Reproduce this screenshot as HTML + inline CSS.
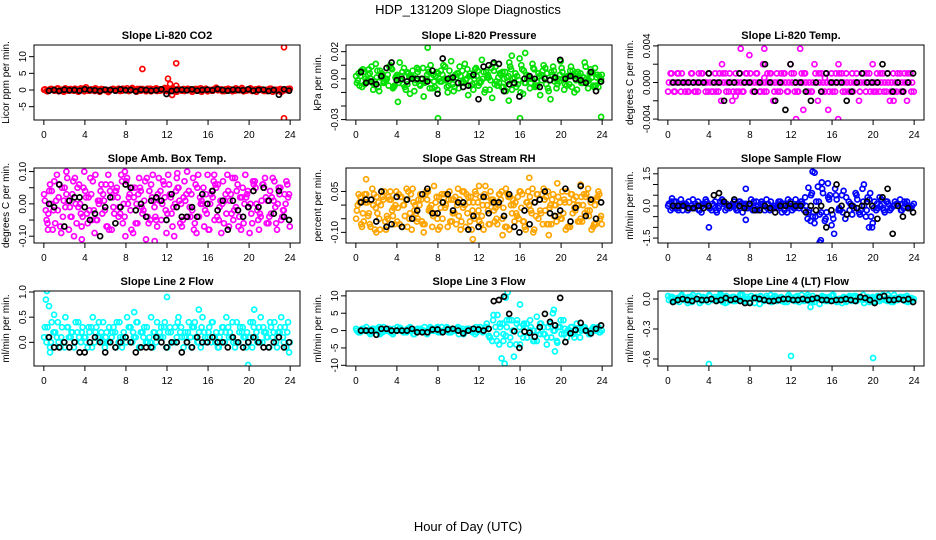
<!DOCTYPE html>
<html><head><meta charset="utf-8"><style>
body{margin:0;background:#fff}
svg{display:block;font-family:"Liberation Sans",sans-serif}
</style></head><body>
<svg id="chart" width="936" height="540" viewBox="0 0 936 540" xmlns="http://www.w3.org/2000/svg">
<text x="468" y="14" text-anchor="middle" font-size="13">HDP_131209  Slope Diagnostics</text>
<text x="468" y="531" text-anchor="middle" font-size="13">Hour of Day (UTC)</text>
</svg>
<script>
// ---------- data (values in panel units; multiply by unit) ----------
const xTicks=[0,4,8,12,16,20,24];
const xTickLabels=["0","4","8","12","16","20","24"];

const co2A=[0.2,-0.1,0.3,0.0,-0.4,0.1,0.5,-0.2,0.0,0.3,-0.3,0.1,0.8,-0.2,0.0,0.4,-0.5,0.2,0.1,-0.1,0.3,0.0,-0.3,0.2,0.5,-0.1,0.0,0.3,-0.2,0.1,0.4,-0.4,0.0,0.2,-0.1,0.6,-0.3,0.1,0.0,0.3,-0.2,0.2,0.0,-0.5,0.3,0.1,-0.1,0.4,0.0,-0.2,0.7,0.1,-0.3,0.0,0.2,-0.1,0.3,0.0,-0.4,0.1,0.5,-0.2,0.0,0.2,-0.3,0.1,0.4,-0.1,0.0,-0.6,0.2,0.3];
const co2B=[-0.3,0.2,0.0,0.4,-0.1,-0.5,0.1,0.3,-0.2,0.0,0.5,-0.4,0.1,0.2,-0.3,0.0,0.3,-0.1,-0.6,0.2,0.0,0.4,-0.2,0.1,-0.3,0.6,0.0,-0.1,0.3,-0.4,0.0,0.2,0.5,-0.2,0.1,-0.3,0.0,0.4,-0.5,0.1,0.3,-0.1,0.2,0.0,-0.2,0.5,0.1,-0.4,0.0,0.3,-0.1,0.2,-0.3,0.4,0.0,-0.2,0.1,0.6,-0.1,0.0,-0.3,0.2,0.4,-0.1,0.0,0.3,-0.5,0.1,0.2,-0.2,0.0,0.4];
const co2C=[0.1,-0.4,0.3,-0.2,0.5,0.0,-0.3,0.2,-0.1,0.4,-0.5,0.1,0.3,-0.2,0.0,0.5,-0.3,0.2,0.0,-0.4,0.3,0.1,-0.2,0.4,-0.1,0.0,0.2,-0.5,0.3,0.1,-0.2,0.4,0.0,-0.3,0.2,-0.1,0.5,0.0,-0.4,0.2,0.1,-0.3,0.4,0.0,-0.1,0.3,-0.5,0.2,0.0,-0.2,0.4,0.1,-0.3,0.2,0.0,-0.4,0.5,-0.1,0.1,-0.2,0.3,0.0,-0.5,0.2,0.1,-0.3,0.4,0.0,-0.2,0.3,-0.1,0.1];
const co2Out=[[9.6,6.3],[12.1,3.4],[12.3,1.8],[12.9,8],[12.9,1.3],[23.4,12.8],[23.4,-8.5],[12.5,-1.5]];
const co2K=[-0.2,0.0,-0.3,0.1,-0.1,0.0,-0.2,0.2,0.0,-0.1,-0.3,0.1,0.0,-0.2,0.2,-0.1,0.0,-0.4,0.1,0.0,-0.2,-0.1,0.2,-1.2,-0.3,0.0,0.1,-0.1,0.2,-0.2,0.0,0.1,-0.1,0.3,0.0,-0.2,0.1,0.0,-0.1,0.2,-0.2,0.0,0.1,-0.3,0.0,-1.4,0.2,-0.2];

const presA=[-3,2,5,-1,0,-4,6,1,-2,3,8,-5,0,2,-6,4,1,-3,7,0,-2,5,-7,2,0,3,-1,6,-4,1,9,-2,0,4,-8,2,-3,5,1,-1,6,-5,3,0,-2,7,1,-4,10,-3,2,0,-6,4,-1,8,-9,3,0,-2,5,1,-4,6,-1,2,-3,0,4,-5,1,-2];
const presB=[4,-6,0,7,-3,11,-9,3,-1,9,-7,2,12,-4,5,-11,1,8,-5,-13,3,10,-2,-8,6,0,-10,13,-6,4,-3,11,-12,2,7,-5,14,-8,1,-14,9,-3,5,-9,12,0,-6,15,-11,3,-7,8,-2,-12,10,4,-15,6,-4,13,-8,2,9,-10,5,-3,12,-7,1,8,-6,3];
const presC=[2,-5,7,-2,4,-8,1,6,-3,0,10,-6,3,-1,8,-4,2,-9,5,0,-3,7,1,-6,4,-2,9,-5,0,3,-7,6,-1,2,-4,8,-3,0,5,-8,11,-2,4,-6,1,9,-4,2,-10,6,0,-3,7,-5,3,1,-7,5,-2,0,8,-4,2,-6,4,0,-3,9,-1,5,-5,2];
const presD=[-1,6,-4,3,9,-2,-6,4,0,-5,7,1,-3,5,-8,2,6,-1,-4,8,0,-7,3,5,-2,10,-6,1,-9,4,2,-3,7,-5,0,6,-2,-10,3,8,-4,1,-6,5,2,-8,4,-1,7,-3,0,11,-5,2,6,-4,-1,9,-7,3,0,-5,6,2,-8,4,1,-2,7,-6,3,0];
const presOut=[[7,23],[8,-29],[16,-29],[23.9,-28],[16.5,19],[15.2,17],[4.1,-17],[14.9,-16]];
const presK=[5,-3,-2,-4,2,8,12,-1,0,-2,0,0,0,-2,6,-11,15,0,1,-3,-6,-5,3,-15,9,10,12,11,-9,-4,-3,-13,0,2,0,-6,0,-1,1,14,0,2,0,-1,-3,5,-9,-2];

const tempA=[0,0,0,0,0,0,0,0,0,0,0,0,0,0,0,0,0,0,0,0,0,0,0,0,0,0,0,0,0,0,0,0,0,0,0,0,0,0,0,0,0,0,0,0,0,0,0,0,0,0,0,0,0,0,0,0,0,0,0,0,0,0,0,0,0,0,0,0,0,0,0,0];
const tempB=[1,-1,1,-1,0,-1,1,-1,-1,1,0,-1,-1,1,-1,2,1,-1,-2,1,-1,-1,1,3,-1,1,-1,2,-1,1,-2,1,-1,1,-1,2,1,-1,0,1,-1,-1,2,-2,1,-1,-3,1,-1,2,1,-1,-1,1,0,-2,1,-1,1,2,-1,-1,1,-1,-2,1,-1,1,-1,-2,1,-1];
const tempC=[-1,1,-1,1,1,-1,-1,1,-1,1,1,-1,1,-1,-1,1,1,-1,1,-1,-1,1,-1,1,1,-1,1,-1,-1,1,1,-1,-1,1,1,-1,1,-1,-1,1,1,-1,-1,1,1,-1,1,-1,-1,1,1,-1,1,-1,-1,1,-1,1,1,-1,-1,1,1,-1,1,-1,-1,1,-1,1,1,-1];
const tempOut=[[7.1,3.7],[9.4,3.7],[12.9,3.7],[12.5,-4],[16.6,-4],[13.2,-3],[9.4,0.5],[15.3,0.5],[5.2,-2],[6.6,-1.5],[22,-2]];
const tempK=[0,0,0,0,0,0,0,1,0,0,-2,0,0,1,0,0,-1,0,2,0,-2,0,-3,2,0,0,-1,-2,0,-1,1,0,0,0,-2,-1,0,1,0,0,0,2,1,-1,0,-1,0,1];

const ambA=[1,-3,4,-6,2,5,-1,-8,3,0,6,-4,2,-2,7,-5,1,3,-7,4,-1,5,-3,0,8,-2,2,-6,4,1,-4,6,-1,3,-5,2,9,-3,0,5,-7,1,4,-2,6,-4,0,3,-8,2,5,-1,7,-3,1,-5,4,2,-6,3,0,6,-2,-4,5,1,-3,7,0,-5,3,2];
const ambB=[-5,6,-2,9,-7,1,8,-4,-10,5,-3,10,-6,3,-9,1,6,-2,9,-8,4,-4,7,-10,2,5,-6,8,-3,-11,4,9,-5,1,7,-9,3,-1,8,-6,2,10,-4,-8,5,0,-7,9,3,-5,6,-9,1,4,-3,8,-7,2,9,-1,-6,5,-8,6,2,-4,8,-6,3,-2,7,-7];
const ambC=[3,-6,0,7,-2,-9,5,1,-4,8,-1,-7,4,2,-5,9,0,-3,6,-8,2,4,-1,-6,7,3,-9,0,5,-2,8,-5,1,-7,4,6,-3,2,-10,5,0,7,-4,3,-6,9,1,-2,-8,4,6,-5,0,3,-7,8,-1,-4,5,2,-9,7,0,-3,6,-6,4,1,-8,5,-2,6];
const ambD=[-2,4,-8,1,6,-4,3,-1,7,-6,0,5,-3,8,-2,-5,4,1,-7,6,-3,2,9,-4,0,-8,5,3,-1,7,-6,2,-4,8,0,-2,6,-7,4,1,-5,3,-1,8,-9,2,5,-3,0,7,-4,1,-6,9,3,-2,6,-8,0,4,-3,7,-5,1,8,-6,2,-1,5,-4,0,3];
const ambOut=[[0.4,-8],[2.2,10],[3.7,-11],[7.9,10],[10.8,-11.5],[13,9.5],[16.6,9]];
const ambK=[0,-1,6,-7,1,2,2,-1,-5,-3,-10,-1,2,-6,-1,6,5,-2,0,-4,1,2,1,-5,3,-1,-4,-4,-1,-4,3,0,4,-2,1,-8,1,-2,-4,-1,4,-1,5,1,-3,4,-4,-5];

const rhA=[-2,3,-6,1,-8,4,-3,0,5,-5,2,-7,-1,3,-4,5,-9,0,2,-6,4,-2,-8,1,3,-5,0,5,-3,-7,2,-1,4,-6,1,-4,3,-9,0,5,-2,-7,2,-4,4,0,-6,3,-1,-8,5,-3,1,-5,4,-2,-7,2,0,-4,5,-9,1,-3,3,-6,0,4,-2,-8,2,-5];
const rhB=[4,-8,1,-3,6,-1,-5,3,-9,2,-4,5,-7,0,6,-3,1,-6,4,-10,2,-2,7,-5,-1,4,-8,2,-3,6,-6,0,3,-9,5,-2,-4,7,-7,1,-1,4,-5,6,-9,2,-3,5,-6,1,3,-10,4,-2,6,-7,0,-4,8,-5,2,-8,4,-1,-6,3,-3,6,-9,0,5,-7];
const rhC=[-5,1,-3,4,-7,0,3,-9,2,-4,5,-1,-6,3,0,-8,4,-2,-5,2,-7,5,0,-3,-9,4,-1,2,-6,3,-4,5,-8,1,-2,4,-6,0,3,-7,2,-5,4,-1,-8,3,0,-4,5,-6,1,-2,-9,4,-3,2,5,-7,0,3,-5,1,-8,4,-2,0,-6,3,-4,2,-7,4];
const rhD=[0,-7,4,-4,2,-9,1,5,-6,3,-2,0,4,-8,2,-5,6,-3,0,-7,5,-1,-4,3,-8,1,4,-6,2,0,-9,5,-3,3,-5,1,-7,4,-2,2,-6,0,5,-8,3,-3,1,-5,4,-9,0,6,-4,2,-7,3,-1,4,-6,1,-3,5,-8,2,0,-5,4,-2,1,-7,3,-4];
const rhOut=[[1,9.5],[11.4,-12.5],[16.9,10],[18.8,-11],[14.3,-11],[21.9,7.5],[12,7],[2,-10]];
const rhK=[1,2,2,-6,5,-8,-7,3,-8,2,-5,-2,4,6,-3,-3,1,4,-2,1,1,-9,-4,-8,3,-3,1,1,-4,4,-8,-10,-2,-7,1,2,5,-3,-4,-2,6,-6,-1,7,-4,2,-5,1];

const sfA=[1,-1,2,0,-2,1,-1,3,0,-2,1,2,-1,0,-3,2,1,-1,0,2,-2,1,0,-1,3,-1,0,2,-2,1,-1,0,2,-3,1,0,-2,3,-1,1,0,-2,-5,2,-4,6,-3,5,-6,3,-2,7,-4,1,-1,3,-2,0,4,-5,2,-1,3,-3,1,-1,2,0,-2,1,-1,0];
const sfB=[-2,2,-1,3,1,-2,0,-1,2,-3,1,0,-2,2,-1,3,-2,0,1,-1,2,-3,1,0,-2,2,-1,1,3,-2,0,-1,2,1,-3,2,-1,0,2,-2,-6,5,-8,9,-3,-7,4,-9,8,-2,5,-6,2,-4,6,-3,8,-5,3,-8,-2,4,-1,2,-2,0,1,3,-1,2,-1,1];
const sfC=[0,2,-1,-2,1,0,2,-1,1,-2,0,3,-1,1,-2,0,2,1,-1,0,-2,2,1,-1,0,2,-2,1,0,-1,2,-1,0,1,-2,3,0,-1,1,2,4,-3,6,-5,2,8,-6,3,-4,5,-1,-3,4,-2,0,5,-4,2,-2,6,-1,1,0,-2,2,-1,0,1,-2,2,0,-1];
const sfOut=[[14.1,16],[14.3,15.5],[14.8,-17],[14.9,-16],[15,11],[15.6,10.5],[16.2,-13],[19.1,10],[19.6,-10],[4,-10],[7.6,8],[7.6,-6.5],[13.7,8.5],[13.9,-7],[0.4,3.5],[19.9,-10]];
const sfK=[0,0,0,-1,-1,0,-1,0,5,6,2,0,3,0,-1,1,-2,-2,0,-1,-3,0,0,1,0,0,-3,0,-2,0,-10,-2,10,0,-4,0,-1,0,2,0,-6,4,8,-13,0,-5,-1,-3];

const l2A=[3,1,4,2,0,3,5,1,2,4,1,3,0,2,5,3,1,4,2,0,3,4,1,2,5,3,1,4,2,3,0,5,2,1,3,4,2,0,3,5,1,2,4,3,1,2,5,0,3,4,2,1,3,5,2,0,4,3,1,2,4,3,0,5,2,1,3,4,2,5,3,4];
const l2B=[0,-1,2,1,-1,0,3,1,-1,2,0,1,-1,3,0,1,2,-1,0,1,2,0,-1,1,3,0,1,-1,2,0,1,-1,0,2,1,-1,3,0,1,2,-1,0,1,3,0,-1,2,1,0,1,-1,2,0,3,1,-1,0,2,1,0,-1,1,3,0,2,-1,1,0,2,1,-1,0];
const l2C=[1,3,0,2,4,1,-1,3,2,0,4,2,1,3,-1,2,4,0,1,3,2,-1,4,1,0,3,2,4,-1,1,3,0,2,4,1,3,-1,2,0,4,3,1,2,-1,4,0,3,1,2,4,0,-1,3,2,1,4,0,2,3,-1,1,4,2,0,3,1,4,2,-1,3,0,2];
const l2Out=[[0.2,8.5],[0.3,10.2],[0.5,7.2],[12,9],[19.9,-4.5],[23.9,-2],[1,5.5],[8.8,6],[20.5,6.5],[15.1,6.5],[0.6,-2]];
const l2K=[1,-1,-1,0,-1,0,-2,-2,0,1,0,-2,0,-1,0,1,0,-2,-1,-1,-1,1,0,-1,0,0,-2,0,-1,1,0,0,1,0,0,-1,1,0,-1,0,1,0,-1,-1,0,1,-1,0];

const l3A=[0,-0.5,0.5,0,-1,0.5,0,-0.5,1,0,-0.5,0.5,0,0.8,-0.5,0,0.5,-1,0,0.5,0,-0.5,1,0,0.5,-0.5,0,1,-0.5,0,0.5,0,-1,0.5,0,0.5,-0.5,1,0,2,-2,4.5,-3,1,-1,3,-4,0,2,-4,1.5,-2,3,0,-3,2,-1,-4,2,0,-3,1,3,-2,0,-1,2,-2,1,0,-1,1,0,-0.5];
const l3B=[-0.5,0.5,0,-0.5,0.5,0,1,-0.5,0,0.5,-1,0,0.5,0,-0.5,1,0,-0.5,0.5,0,-1,0.5,0,1,-0.5,0,0.5,-0.5,0,1,0,-0.5,0.5,0,-1,0.5,0,1,-1.5,-3,1,-4,2,-1.5,3,0,-4,1,-2,2,0,-3,4,-1,1,-2,2,0,-3.5,3,-1,0,1,-2,0.5,0,1,-0.5,0,0.5,1,0];
const l3C=[0.5,-0.5,0,1,-0.5,0,0.5,-1,0,0.5,0,-0.5,1,0,-0.5,0.5,0,-1,0.5,0,1,-0.5,0,0.5,-0.5,1,0,-0.5,0.5,0,-1,0.5,0,0.5,-0.5,1,0,-0.5,1,-2,3,-1,2,-3,1,-2,0,3,-1,2,-2,1,-3,0,2,-1,1,-2,0,1,-1,0.5,-0.5,1,0,-0.5,0.5,0,-1,0.5,0,-0.5];
const l3Out=[[14.6,9.5],[14.8,11],[14.2,-8],[14.5,-9.5],[15.4,-7.5],[15.2,3],[16,7.5],[19.2,5],[19.3,6],[19.4,-6],[13.8,4.5]];
const l3K=[0,0,0,-1.2,0.5,0.5,0,0,0,0,0.5,-0.5,-0.5,-0.5,0.3,0.3,-0.5,0.3,0.5,0,-0.8,0,0.5,0.3,0,0.5,8.5,8.8,9.8,4.8,-0.2,-5,-0.3,-0.6,-1.8,1,4.8,2.5,1.5,9.4,-3.3,-0.8,0.2,2.2,0,-0.8,0.5,1.5];

const l4A=[-1,2,0,-3,3,1,-2,4,0,-4,2,-1,3,0,-2,5,1,-3,0,2,-1,4,-2,0,3,-4,1,2,-1,0,-3,3,1,-2,0,4,-1,2,-3,0,1,-2,3,0,-5,2,1,-1,4,-3,0,2,-2,1,3,-1,0,-4,2,1,-2,3,0,-1,4,-3,1,0,2,-2,1,-1];
const l4B=[2,-2,1,3,-1,-4,2,0,3,-2,1,-3,0,2,-1,3,-4,1,2,-2,0,4,-1,-3,1,2,-5,0,3,-1,2,-2,1,0,-3,2,-1,3,0,-2,4,-1,-3,1,0,2,-2,3,-1,0,-4,1,2,-2,3,0,-1,1,-3,2,0,-2,4,-1,1,-3,0,2,-1,3,-2,0];
const l4C=[3,0,-2,1,4,-1,2,-3,0,3,-2,1,4,-1,0,2,-3,3,1,-2,0,4,-1,2,-3,1,0,3,-2,1,4,0,-1,2,-3,3,1,-2,0,4,-1,2,-3,1,0,3,-2,2,4,-1,0,1,-3,3,2,-2,0,4,-1,1,-3,2,0,3,-2,1,4,-1,0,2,-3,1];
const l4Out=[[4,-65],[12,-57],[20,-59],[5.2,4],[13.9,-8]];
const l4K=[-3,-1,0,-1,-2,0,-1,-1,0,-2,-1,1,-1,0,-2,-4,-4,1,0,-1,-2,-2,-1,0,0,-1,-1,0,-1,0,1,-1,-1,-2,-1,-1,0,-1,-2,2,1,-1,-4,2,3,-1,-1,0,-1,0,-3];

const p1Ticks=[-5,0,5,10], p1Labels=["-5","0","5","10"];
const p2Ticks=[-0.03,-0.02,-0.01,0,0.01,0.02], p2Labels=["-0.03","","","0.00","","0.02"];
const p3Ticks=[-0.004,-0.002,0,0.002,0.004], p3Labels=["-0.004","","0.000","","0.004"];
const p4Ticks=[-0.1,-0.05,0,0.05,0.1], p4Labels=["-0.10","","0.00","","0.10"];
const p5Ticks=[-0.1,-0.05,0,0.05], p5Labels=["-0.10","","","0.05"];
const p6Ticks=[-1.5,-1,-0.5,0,0.5,1,1.5], p6Labels=["-1.5","","","0.0","","","1.5"];
const p7Ticks=[0,0.5,1], p7Labels=["0.0","0.5","1.0"];
const p8Ticks=[-10,-5,0,5,10], p8Labels=["-10","-5","0","5","10"];
const p9Ticks=[-0.6,-0.3,0], p9Labels=["-0.6","-0.3","0.0"];

// ---------- layout / style ----------
const panels=[
 {name:"co2",title:"Slope Li-820 CO2",yl:"Licor ppm per min.",col:0,row:0,ymin:-9,ymax:13.5,unit:1,color:"#ff0000",S:[co2A,co2B,co2C],O:co2Out,K:co2K,t:p1Ticks,tl:p1Labels},
 {name:"pressure",title:"Slope Li-820 Pressure",yl:"kPa per min.",col:1,row:0,ymin:-0.0303,ymax:0.0249,unit:0.001,color:"#00e000",S:[presA,presB,presC,presD],O:presOut,K:presK,t:p2Ticks,tl:p2Labels},
 {name:"temp",title:"Slope Li-820 Temp.",yl:"degrees C per min.",col:2,row:0,ymin:-0.0041,ymax:0.0041,unit:0.001,color:"#ff00ff",S:[tempA,tempB,tempC],O:tempOut,K:tempK,t:p3Ticks,tl:p3Labels},
 {name:"amb-box-temp",title:"Slope Amb. Box Temp.",yl:"degrees C per min.",col:0,row:1,ymin:-0.121,ymax:0.111,unit:0.01,color:"#ff00ff",S:[ambA,ambB,ambC,ambD],O:ambOut,K:ambK,t:p4Ticks,tl:p4Labels},
 {name:"gas-rh",title:"Slope Gas Stream RH",yl:"percent per min.",col:1,row:1,ymin:-0.139,ymax:0.136,unit:0.01,color:"#ffa500",S:[rhA,rhB,rhC,rhD],O:rhOut,K:rhK,t:p5Ticks,tl:p5Labels},
 {name:"sample-flow",title:"Slope Sample Flow",yl:"ml/min per min.",col:2,row:1,ymin:-1.73,ymax:1.77,unit:0.1,color:"#0000ff",S:[sfA,sfB,sfC],O:sfOut,K:sfK,t:p6Ticks,tl:p6Labels},
 {name:"line2-flow",title:"Slope Line 2 Flow",yl:"ml/min per min.",col:0,row:2,ymin:-0.47,ymax:1.02,unit:0.1,color:"#00ffff",S:[l2A,l2B,l2C],O:l2Out,K:l2K,t:p7Ticks,tl:p7Labels},
 {name:"line3-flow",title:"Slope Line 3 Flow",yl:"ml/min per min.",col:1,row:2,ymin:-10.2,ymax:11.4,unit:1,color:"#00ffff",S:[l3A,l3B,l3C],O:l3Out,K:l3K,t:p8Ticks,tl:p8Labels},
 {name:"line4-flow",title:"Slope Line 4 (LT) Flow",yl:"ml/min per min.",col:2,row:2,ymin:-0.67,ymax:0.08,unit:0.01,color:"#00ffff",S:[l4A,l4B,l4C],O:l4Out,K:l4K,t:p9Ticks,tl:p9Labels}
];
const colX=[34,346,658], rowY=[45,168,291], PW=266, PH=75;
const offs=[0.1,0.27,0.02,0.19];
const NS="http://www.w3.org/2000/svg";
const svg=document.getElementById('chart');
function mk(tag,attrs,parent){const e=document.createElementNS(NS,tag);for(const k in attrs)e.setAttribute(k,attrs[k]);parent.appendChild(e);return e;}

panels.forEach(p=>{
  const x0=colX[p.col], y0=rowY[p.row];
  const g=mk('g',{},svg);
  
  
  const xs=v=>x0+PW*(v+0.96)/25.92;
  const ys=v=>y0+PH*(p.ymax-v)/(p.ymax-p.ymin);
  const clip='clip-'+p.name;
  const cp=mk('clipPath',{id:clip},g); mk('rect',{x:x0,y:y0,width:PW,height:PH},cp);
  const t=mk('text',{x:x0+PW/2,y:y0-6,'text-anchor':'middle','font-size':'11','font-weight':'bold'},g);
  t.textContent=p.title;
  
  
  const yl=mk('text',{x:0,y:0,'text-anchor':'middle','font-size':'10',transform:`translate(${x0-25},${y0+PH/2}) rotate(-90)`},g);
  yl.textContent=p.yl;
  
  
  const pts=mk('g',{'clip-path':`url(#${clip})`,fill:'none','stroke-width':'1.7'},g);
  
  
  const dot=(xv,yv,c)=>{const e=mk('circle',{cx:xs(xv).toFixed(1),cy:ys(yv*p.unit).toFixed(1),r:2.5,stroke:c},pts);
    
    };
  p.S.forEach((arr,si)=>{
    const n=arr.length, o=offs[si];
    arr.forEach((v,i)=>dot(o+i*23.7/(n-1),v,p.color));
  });
  p.O.forEach(o=>dot(o[0],o[1],p.color));
  const nK=p.K.length;
  p.K.forEach((v,i)=>dot(0.5+i*23.4/(nK-1),v,'#000'));
  const b=mk('rect',{x:x0,y:y0,width:PW,height:PH,fill:'none',stroke:'#000','stroke-width':'1'},g);
  
  
  const xa=mk('g',{},g);
  
  
  mk('line',{x1:xs(0),x2:xs(24),y1:y0+PH,y2:y0+PH,stroke:'#000'},xa);
  xTicks.forEach((v,i)=>{
    mk('line',{x1:xs(v),x2:xs(v),y1:y0+PH,y2:y0+PH+5,stroke:'#000'},xa);
    const tx=mk('text',{x:xs(v),y:y0+PH+18,'text-anchor':'middle','font-size':'10'},xa);
    tx.textContent=xTickLabels[i];
    
    
  });
  const ya=mk('g',{},g);
  
  
  mk('line',{x1:x0,x2:x0,y1:ys(p.t[0]),y2:ys(p.t[p.t.length-1]),stroke:'#000'},ya);
  p.t.forEach((v,i)=>{
    mk('line',{x1:x0-5,x2:x0,y1:ys(v),y2:ys(v),stroke:'#000'},ya);
    if(p.tl[i]){
      const ty=mk('text',{x:0,y:0,'text-anchor':'middle','font-size':'10',transform:`translate(${x0-8},${ys(v)}) rotate(-90)`},ya);
      ty.textContent=p.tl[i];
      
      
    }
  });
});
</script>
</body></html>
